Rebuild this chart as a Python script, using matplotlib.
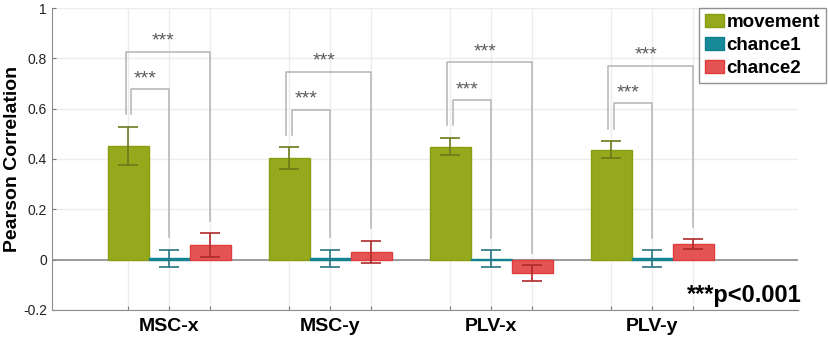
import numpy as np
import matplotlib
matplotlib.use("Agg")
import matplotlib.pyplot as plt

plt.rcParams['font.family'] = ['Liberation Sans', 'DejaVu Sans']

# data
groups = ["MSC-x", "MSC-y", "PLV-x", "PLV-y"]
series = ["movement", "chance1", "chance2"]
movement = [0.452, 0.403, 0.449, 0.437]
movement_err = [0.075, 0.043, 0.035, 0.034]
chance1 = [0.005, 0.005, 0.004, 0.005]
chance1_err = [0.034, 0.034, 0.034, 0.033]
chance2 = [0.057, 0.031, -0.053, 0.062]
chance2_err = [0.048, 0.043, 0.031, 0.019]
sig_label = "***"
p_note = "***p<0.001"

face = ["#96A81C", "#178A99", "#E55454"]
edge = ["#8A9E14", "#12808F", "#E03C3C"]
ecol = ["#6B7A1C", "#2A7480", "#B02A2A"]

fig = plt.figure(figsize=(8.29, 3.42), dpi=100)
ax = fig.add_axes([0.0627, 0.0936, 0.900, 0.883])

x = np.arange(1, len(groups) + 1)
w = 0.255
vals = [movement, chance1, chance2]
errs = [movement_err, chance1_err, chance2_err]
for i, (v, e) in enumerate(zip(vals, errs)):
    pos = x + (i - 1) * w
    ax.bar(pos, v, width=w, color=face[i], edgecolor=edge[i], linewidth=1,
           label=series[i], zorder=3)
    ax.errorbar(pos, v, yerr=e, fmt='none', ecolor=ecol[i], elinewidth=1.2,
                capsize=7, capthick=1.2, zorder=4)

ax.axhline(0, color="#8c8c8c", lw=1.2, zorder=2)

# significance brackets
lc = "#b4b4b4"
for k in range(len(groups)):
    m_top = movement[k] + movement_err[k]
    c1_top = chance1[k] + chance1_err[k]
    c2_top = chance2[k] + chance2_err[k]
    inner = m_top + 0.15
    outer = inner + 0.15
    xm, x1, x2 = x[k] - w, x[k], x[k] + w
    ax.plot([xm + 0.018, xm + 0.018, x1, x1],
            [m_top + 0.05, inner, inner, c1_top + 0.05], color=lc, lw=1.1, zorder=2)
    ax.plot([xm - 0.018, xm - 0.018, x2, x2],
            [m_top + 0.05, outer, outer, c2_top + 0.05], color=lc, lw=1.1, zorder=2)
    for y0, xa, xb in [(inner, xm + 0.018, x1), (outer, xm - 0.018, x2)]:
        ax.text((xa + xb) / 2 - 0.03, y0 + 0.042, sig_label, ha="center", va="center",
                fontsize=14, color="#5a5a5a", zorder=5)

ax.set_xlim(0.27, 4.907)
ax.set_ylim(-0.2, 1.0)
ax.set_yticks(np.arange(-0.2, 1.01, 0.2))
ax.set_yticklabels(["-0.2", "0", "0.2", "0.4", "0.6", "0.8", "1"], fontsize=10)

ticks = np.concatenate([x - w, x, x + w])
ax.set_xticks(np.sort(ticks))
ax.set_xticklabels([""] * len(ticks))
for k, g in enumerate(groups):
    ax.text(x[k], -0.232, g, ha="center", va="top", fontsize=14, fontweight="bold")

ax.grid(True, color="#ececec", lw=1, zorder=0)
ax.set_axisbelow(True)
for s in ["top", "right"]:
    ax.spines[s].set_visible(False)
for s in ["left", "bottom"]:
    ax.spines[s].set_color("#8c8c8c")
ax.tick_params(axis="both", colors="#777777", labelcolor="#222222", length=3, direction="in")

ax.set_ylabel("Pearson Correlation", fontsize=14, fontweight="bold")
ax.yaxis.set_label_coords(-0.041, 0.5)

leg = ax.legend(loc="upper right", bbox_to_anchor=(1.037, 1.0),
                prop={"weight": "bold", "size": 13.5}, frameon=True, fancybox=False,
                edgecolor="#777777", handlelength=1.0, handleheight=0.7,
                handletextpad=0.15, borderpad=0.3, labelspacing=0.32,
                borderaxespad=0.0)
leg.get_frame().set_linewidth(1.0)

ax.text(4.573, -0.143, p_note, ha="center", va="center", fontsize=17, fontweight="bold",
        clip_on=False)

fig.savefig("out.png", dpi=100)
